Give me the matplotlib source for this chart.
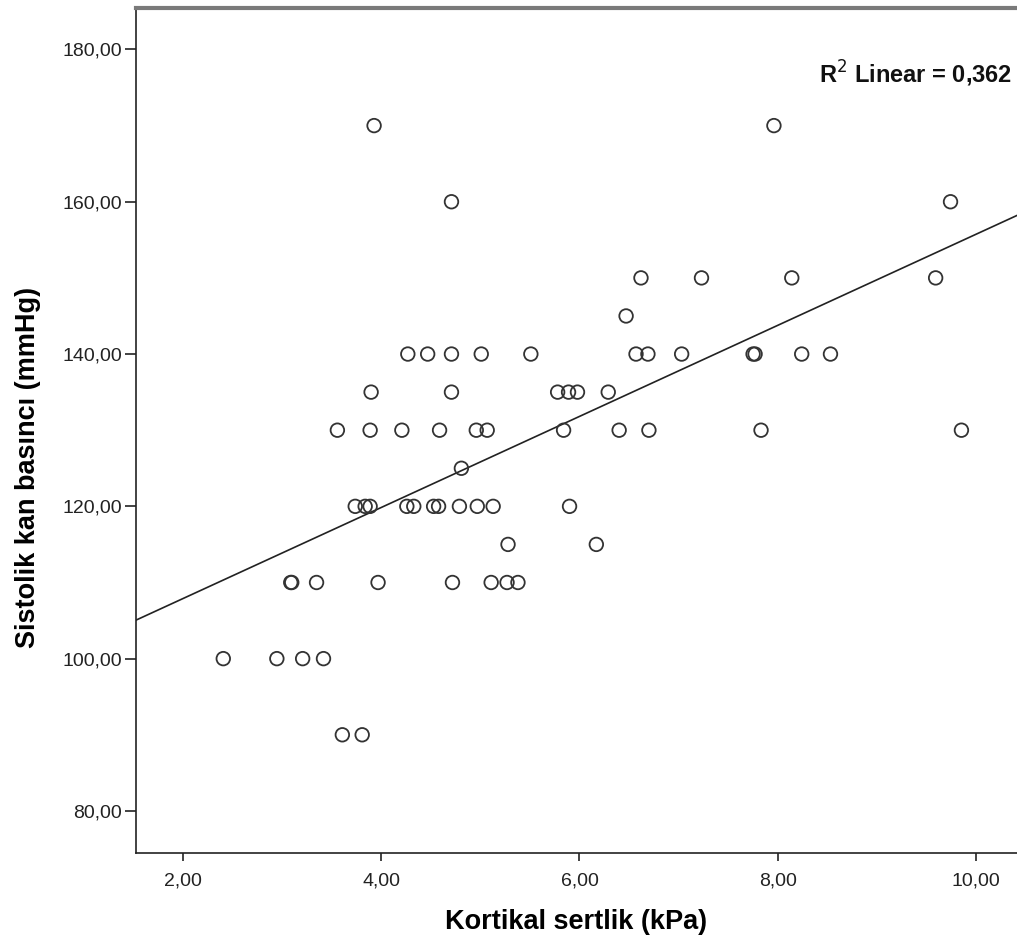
import numpy as np
import matplotlib
matplotlib.use('Agg')
import matplotlib.pyplot as plt
from matplotlib.ticker import FuncFormatter

plt.rcParams['font.family'] = ['Liberation Sans', 'DejaVu Sans']

# Kortikal sertlik (kPa) and sistolik kan basinci (mmHg)
stiffness = [3.93, 7.96,
             4.71, 9.74,
             6.62, 7.23, 8.14, 9.59,
             6.47,
             4.27, 4.47, 4.71, 5.01, 5.51, 6.57, 6.69, 7.03, 7.75, 7.77, 8.24, 8.53,
             3.90, 4.71, 5.78, 5.89, 5.98, 6.29,
             3.56, 3.89, 4.21, 4.59, 4.96, 5.07, 5.84, 6.40, 6.70, 7.83, 9.85,
             4.81,
             3.74, 3.84, 3.89, 4.26, 4.33, 4.53, 4.58, 4.79, 4.97, 5.13, 5.90,
             5.28, 6.17,
             3.09, 3.10, 3.35, 3.97, 4.72, 5.11, 5.27, 5.38,
             2.41, 2.95, 3.21, 3.42,
             3.61, 3.81]
pressure = [170, 170,
            160, 160,
            150, 150, 150, 150,
            145,
            140, 140, 140, 140, 140, 140, 140, 140, 140, 140, 140, 140,
            135, 135, 135, 135, 135, 135,
            130, 130, 130, 130, 130, 130, 130, 130, 130, 130, 130,
            125,
            120, 120, 120, 120, 120, 120, 120, 120, 120, 120, 120,
            115, 115,
            110, 110, 110, 110, 110, 110, 110, 110,
            100, 100, 100, 100,
            90, 90]

x_ticks = [2, 4, 6, 8, 10]
y_ticks = [80, 100, 120, 140, 160, 180]
r2_label = 'R$^2$ Linear = 0,362'

x = np.array(stiffness)
y = np.array(pressure)
slope, intercept = np.polyfit(x, y, 1)

fig = plt.figure(figsize=(10.17, 9.46), dpi=100)
ax = fig.add_axes([0.1337, 0.0985, 0.8663, 0.8935])

xlim = (1.53, 10.41)
ax.set_xlim(*xlim)
ax.set_ylim(74.5, 185.5)

xx = np.array(xlim)
ax.plot(xx, slope * xx + intercept, color='#222222', lw=1.2, zorder=2)
ax.scatter(x, y, s=95, facecolors='none', edgecolors='#333333',
           linewidths=1.3, zorder=3)

ax.set_xticks(x_ticks)
ax.set_yticks(y_ticks)
fmt = FuncFormatter(lambda v, p: f'{v:.2f}'.replace('.', ','))
ax.xaxis.set_major_formatter(fmt)
ax.yaxis.set_major_formatter(fmt)
ax.tick_params(direction='out', length=7, width=1.2, colors='#222222',
               labelsize=14, labelcolor='#222222')
ax.tick_params(axis='x', length=6, pad=8)
ax.tick_params(axis='y', length=8, pad=2)

ax.spines['right'].set_visible(False)
ax.spines['top'].set_color('#7a7a7a')
ax.spines['top'].set_linewidth(3)
ax.spines['left'].set_color('#222222')
ax.spines['left'].set_linewidth(1.2)
ax.spines['bottom'].set_color('#222222')
ax.spines['bottom'].set_linewidth(1.2)

ax.set_xlabel('Kortikal sertlik (kPa)', fontsize=19.5, fontweight='bold', labelpad=14)
ax.set_ylabel('Sistolik kan basıncı (mmHg)', fontsize=19.5, fontweight='bold')
ax.yaxis.set_label_coords(-0.108, 0.456)

ax.text(0.995, 0.922, r2_label, transform=ax.transAxes, ha='right', va='center',
        fontsize=17, fontweight='bold', color='#111111')

fig.savefig('out.png', dpi=100)
